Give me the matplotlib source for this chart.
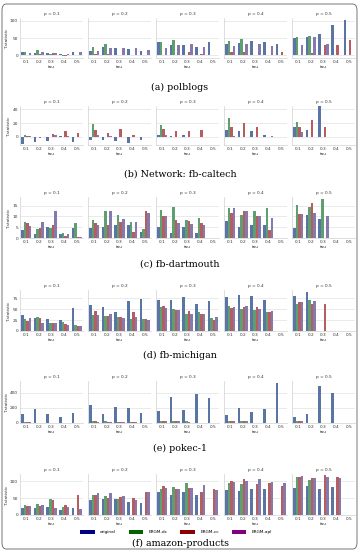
import numpy as np
import matplotlib
matplotlib.use('Agg')
import matplotlib.pyplot as plt
from matplotlib.patches import FancyBboxPatch, Patch

nan = np.nan
taus = ['0.1', '0.2', '0.3', '0.4', '0.5']
ps = ['0.1', '0.2', '0.3', '0.4', '0.5']
methods = ['original', 'ERGM-dc', 'ERGM-cc', 'ERGM-apl']

# rows: p = 0.1 .. 0.5 ; columns: tau = 0.1 .. 0.5
polblogs_original = [[9, 6, 7, 4, 10], [12, 25, 20, 18, 12], [38, 30, 30, 25, 37], [33, 35, 40, 37, 32], [50, 52, 63, 89, 103]]
polblogs_dc = [[9, 14, 3, -2, nan], [25, 33, nan, nan, nan], [38, 44, nan, nan, nan], [42, 48, nan, nan, nan], [52, 56, nan, nan, nan]]
polblogs_cc = [[1, 5, 6, -3, nan], [3, 3, 1, 1, nan], [2, 2, 10, 3, 1], [10, 10, nan, nan, 10], [nan, 6, 30, 30, 45]]
polblogs_apl = [[6, 8, 6, 5, 9], [13, 20, 20, 20, 15], [22, 30, 32, 25, nan], [27, 33, 32, 27, nan], [29, 52, 33, nan, nan]]

caltech_original = [[-11, -7, -6, 0.5, -7], [-4, -5, -6, -9, -4], [3, 0.5, 2, -1, nan], [10, 8, 8, 2, nan], [15, 10, 45, nan, nan]]
caltech_dc = [[2, nan, nan, nan, nan], [18, nan, nan, nan, nan], [17, nan, nan, nan, nan], [28, nan, nan, nan, nan], [21, nan, nan, nan, nan]]
caltech_cc = [[1, -2, 4, 8, 6], [10, 5, 11, 3, nan], [12, 9, 9, 10, nan], [15, 20, 14, nan, nan], [15, 25, 15, nan, nan]]
caltech_apl = [[1, -1, 2, 0.5, nan], [3, 1, nan, nan, nan], [2, nan, nan, nan, nan], [1, nan, nan, 1, nan], [7, nan, nan, nan, nan]]

dartmouth_original = [[3.5, 2, 5, 2, 4.5], [4.5, 5, 6, 6, 3], [5, 2.5, 5, 2.5, nan], [8, 5, 6, 6, nan], [4.5, 10.5, 9, nan, nan]]
dartmouth_dc = [[7.5, 4, 4.5, 2.5, 7], [8.5, 12.5, 10.5, 7.5, 4], [13, 14.5, 8.5, 9.5, nan], [14, 10.5, 12.5, 14, nan], [15.5, 14.5, 18, nan, nan]]
dartmouth_cc = [[7, 4.5, 6, 1, 0.5], [7, 6, 7.5, 3, 12.5], [10, 8.5, 8, 7, nan], [11.5, 12.5, 10, 3.5, nan], [11, 16, nan, nan, nan]]
dartmouth_apl = [[5.5, 7.5, 12.5, 2, 0.5], [6, 12.5, 9, 7.5, 11.5], [10, 7, 6.5, 6, nan], [14, 12.5, 10, 9.5, nan], [11, 11.5, 10, nan, nan]]

michigan_original = [[37, 30, 28, 26, 52], [60, 55, 44, 68, 73], [70, 72, 79, 61, 68], [79, 82, 80, 72, nan], [80, 90, nan, nan, nan]]
michigan_dc = [[28, 32, 19, 21, 14], [37, 35, 32, 28, 28], [54, 50, 40, 43, 30], [57, 50, 48, 44, nan], [62, 70, nan, nan, nan]]
michigan_cc = [[22, 30, 18, 16, 12], [47, 35, 31, 43, 28], [58, 49, 47, 40, 26], [52, 55, 54, 44, nan], [66, 63, 63, nan, nan]]
michigan_apl = [[29, 19, 19, 14, 12], [37, 39, 29, 32, 26], [52, 49, 40, 38, 31], [55, 57, 50, 46, nan], [66, 68, nan, nan, nan]]

pokec_original = [[125, 182, 125, 85, 130], [243, 120, 205, 193, 135], [165, 340, 175, 382, 330], [108, 200, 140, 180, 526], [75, 115, 485, 400, nan]]
pokec_dc = [[10, 5, 5, 5, 5], [20, 20, 10, 10, nan], [25, 25, 20, nan, nan], [30, 25, nan, nan, nan], [30, nan, nan, nan, nan]]
pokec_cc = [[10, 5, 5, 5, 5], [20, 15, 10, 10, nan], [20, 20, 10, nan, nan], [30, 25, nan, nan, nan], [30, nan, nan, nan, nan]]
pokec_apl = [[10, 5, 5, 5, 5], [15, 15, 15, 10, nan], [20, 20, nan, nan, nan], [30, 25, nan, nan, nan], [25, nan, nan, nan, nan]]

amazon_original = [[22, 22, 24, 16, 20], [45, 48, 48, 38, 36], [67, 60, 68, 61, nan], [73, 70, 76, 78, nan], [81, 86, 76, 83, nan]]
amazon_dc = [[30, 33, 49, 25, nan], [61, 58, 49, nan, nan], [77, 84, 94, nan, nan], [95, 91, nan, nan, nan], [112, 103, nan, nan, nan]]
amazon_cc = [[28, 26, 46, 29, 59], [61, 51, 54, 50, 68], [86, 76, 81, 67, 76], [100, 108, 91, 96, 86], [112, 110, 118, 112, nan]]
amazon_apl = [[28, 31, 20, 23, 18], [66, 64, 56, 46, 68], [81, 77, 81, 90, 75], [99, 101, 106, 98, 95], [116, 110, 114, 111, nan]]

captions = ['(a) polblogs', '(b) Network: fb-caltech', '(c) fb-dartmouth',
            '(d) fb-michigan', '(e) pokec-1', '(f) amazon-products']
row_data = [
    [polblogs_original, polblogs_dc, polblogs_cc, polblogs_apl],
    [caltech_original, caltech_dc, caltech_cc, caltech_apl],
    [dartmouth_original, dartmouth_dc, dartmouth_cc, dartmouth_apl],
    [michigan_original, michigan_dc, michigan_cc, michigan_apl],
    [pokec_original, pokec_dc, pokec_cc, pokec_apl],
    [amazon_original, amazon_dc, amazon_cc, amazon_apl],
]
row_ylim = [(-8, 108), (-12, 45), (0, 19), (0, 94), (0, 555), (0, 122)]
row_yticks = [[0, 50, 100], [0, 20, 40], [0, 5, 10, 15], [0, 25, 50, 75], [0, 200, 400], [0, 50, 100]]

bar_colors = ['#5975a4', '#5f9e6e', '#b55d60', '#857aab']
legend_colors = ['navy', 'darkgreen', 'darkred', 'purple']

W, H = 360, 552
fig = plt.figure(figsize=(W / 100, H / 100), dpi=100)

def fx(px):
    return px / W

def fy(py):
    return 1 - py / H

col_left = [20, 88, 156, 224, 292]
col_w = 63
# (top px, bottom px, caption y px)
rows = [(18, 58, 87), (106, 145, 174), (197, 238, 264), (290, 331, 355), (381, 423, 448), (474, 515, 543)]

fs = 3.1
x = np.arange(len(taus))
bw = 0.2
offsets = [-0.3, -0.1, 0.1, 0.3]

for r, (top, bot, cap) in enumerate(rows):
    for c in range(5):
        ax = fig.add_axes([fx(col_left[c]), fy(bot), fx(col_w), (bot - top) / H])
        for m in range(4):
            vals = np.array(row_data[r][m][c], dtype=float)
            ax.bar(x + offsets[m], vals, width=bw, color=bar_colors[m], linewidth=0, zorder=2)
        ax.set_xlim(-0.5, 4.5)
        ax.set_ylim(*row_ylim[r])
        ax.set_yticks(row_yticks[r])
        ax.set_xticks(x)
        ax.set_xticklabels(taus)
        ax.grid(axis='y', color='#e2e2e2', linewidth=0.5, zorder=0)
        ax.set_axisbelow(True)
        for s in ['top', 'right']:
            ax.spines[s].set_visible(False)
        for s in ['left', 'bottom']:
            ax.spines[s].set_color('#d0d0d0')
            ax.spines[s].set_linewidth(0.5)
        ax.tick_params(length=0, pad=1.5, labelsize=fs, colors='#333333')
        ax.set_xlabel('tau', fontsize=fs, labelpad=0.5, color='#333333')
        ax.set_title('p = ' + ps[c], fontsize=fs, pad=2, color='#333333')
        if c == 0:
            ax.set_ylabel('T-statistic', fontsize=fs, labelpad=1, color='#333333')
        else:
            ax.set_yticklabels([])
    fig.text(0.5, fy(cap), captions[r], ha='center', va='center',
             fontsize=6.8, family='DejaVu Serif')

handles = [Patch(facecolor=col, edgecolor='none', label=lab) for col, lab in zip(legend_colors, methods)]
fig.legend(handles=handles, loc='center', bbox_to_anchor=(fx(176), fy(532)), ncol=4,
           fontsize=fs, frameon=False, handlelength=3.4, handleheight=1.3,
           columnspacing=3.0, handletextpad=1.2, borderpad=0)

frame = FancyBboxPatch((fx(2), fy(549)), fx(355), (549 - 4) / H,
                       boxstyle='round,pad=0,rounding_size=0.012',
                       transform=fig.transFigure, facecolor='none',
                       edgecolor='#777777', linewidth=0.7)
fig.patches.append(frame)

fig.savefig('out.png', dpi=100)
